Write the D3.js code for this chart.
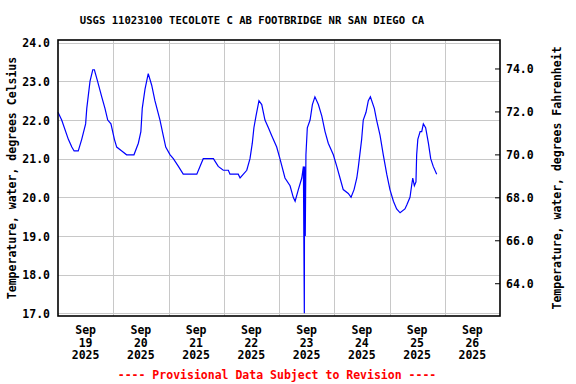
<!DOCTYPE html>
<html>
<head>
<meta charset="utf-8">
<script src="https://cdn.jsdelivr.net/npm/d3@7"></script>
<style>
  body { margin: 0; background: #fff; }
  text { font-family: "DejaVu Sans Mono", monospace; font-weight: bold; }
</style>
</head>
<body>
<script>
// readings: hours after 2025-09-19 00:00, and temperature in deg C
var hours = [0, 1.6, 4.5, 6, 7, 8.8, 10.3, 12, 12.5, 13.9, 15.1, 15.8, 17.2, 19, 20.4, 21.6, 23,
  24.5, 25.5, 27.7, 29.8, 33, 34.9, 36, 36.6, 37.8, 39.2, 40.7, 42.1, 44.3, 45.7, 46.8,
  48.7, 50.1, 52.3, 54.4, 60.3, 62.4, 63.1, 67.5, 69.6, 71.8, 74, 74.7, 78.3, 79.1,
  82, 83.4, 84.4, 85.1, 86, 87.3, 88.5, 89.9, 91.4, 92.8, 95, 96.4, 98.6, 100.8, 102.2,
  103, 104.4, 105.9, 106.6, 107, 107.1, 107.4, 107.7, 108.3, 109.5, 110.5, 111.6, 113.1,
  114.6, 116, 117.4, 119.6, 121.1, 122.5, 123.9, 126.1, 127.3, 128.6, 129.8, 130.5,
  131.9, 132.6, 133.8, 134.8, 135.7, 137.4, 138.4, 139.9, 141.3, 142.8, 144.2, 145.7,
  147.1, 148.6, 150.7, 151.5, 152.9, 153.6, 154.1, 154.8, 155.5, 155.8, 156.3, 157.3,
  158, 158.7, 159.7, 160.9, 161.9, 163, 164.5];
var temps = [22.2, 22.0, 21.5, 21.3, 21.2, 21.2, 21.5, 21.9, 22.3, 23.0, 23.3, 23.3, 23.0, 22.6, 22.3, 22.0, 21.9,
  21.5, 21.3, 21.2, 21.1, 21.1, 21.4, 21.7, 22.3, 22.8, 23.2, 22.9, 22.5, 22.0, 21.6, 21.3,
  21.1, 21.0, 20.8, 20.6, 20.6, 20.9, 21.0, 21.0, 20.8, 20.7, 20.7, 20.6, 20.6, 20.5,
  20.7, 21.0, 21.4, 21.8, 22.1, 22.5, 22.4, 22.0, 21.8, 21.6, 21.3, 21.0, 20.5, 20.3, 20.0,
  19.9, 20.2, 20.5, 20.8, 17.0, 20.8, 19.0, 21.1, 21.8, 22.0, 22.4, 22.6, 22.4,
  22.1, 21.7, 21.4, 21.1, 20.8, 20.5, 20.2, 20.1, 20.0, 20.2, 20.5, 20.8,
  21.5, 22.0, 22.2, 22.5, 22.6, 22.3, 22.0, 21.6, 21.1, 20.6, 20.2, 19.9,
  19.7, 19.6, 19.7, 19.8, 20.0, 20.3, 20.5, 20.3, 20.4, 21.1, 21.5, 21.7,
  21.7, 21.9, 21.8, 21.4, 21.0, 20.8, 20.6];

var celsiusTicks = [17, 18, 19, 20, 21, 22, 23, 24];
var fahrenheitTicks = [64, 66, 68, 70, 72, 74];
var tickDays = ["19", "20", "21", "22", "23", "24", "25", "26"];
var tickMonth = "Sep", tickYear = "2025";

var title = "USGS 11023100 TECOLOTE C AB FOOTBRIDGE NR SAN DIEGO CA";
var leftTitle = "Temperature, water, degrees Celsius";
var rightTitle = "Temperature, water, degrees Fahrenheit";
var footnote = "---- Provisional Data Subject to Revision ----";

var width = 576, height = 384;
var margin = {top: 40, right: 76, bottom: 68, left: 58};
var plotW = width - margin.left - margin.right,
    plotH = height - margin.top - margin.bottom;

var start = new Date(2025, 8, 19, 0, 0);
var end = new Date(2025, 8, 27, 0, 0);
var hourMs = 3600 * 1000;

var svg = d3.select("body").append("svg")
    .attr("width", width)
    .attr("height", height);

var x = d3.scaleTime().domain([start, end]).range([0, plotW]);
var y = d3.scaleLinear().domain([16.93, 24.07]).range([plotH, 0]);
var yF = d3.scaleLinear()
    .domain(y.domain().map(function(c) { return c * 9 / 5 + 32; }))
    .range([plotH, 0]);

var g = svg.append("g")
    .attr("transform", "translate(" + margin.left + "," + margin.top + ")");

// grid
g.append("g").selectAll("line.h")
    .data(celsiusTicks)
  .enter().append("line")
    .attr("x1", 0).attr("x2", plotW)
    .attr("y1", function(d) { return Math.round(y(d)) + 0.5; })
    .attr("y2", function(d) { return Math.round(y(d)) + 0.5; })
    .attr("stroke", "#c8c8c8")
    .attr("stroke-width", 1);

var dayLines = d3.range(1, tickDays.length).map(function(i) { return new Date(start.getTime() + i * 24 * hourMs); });
g.append("g").selectAll("line.v")
    .data(dayLines)
  .enter().append("line")
    .attr("x1", function(d) { return Math.round(x(d)) + 0.5; })
    .attr("x2", function(d) { return Math.round(x(d)) + 0.5; })
    .attr("y1", 0).attr("y2", plotH)
    .attr("stroke", "#c8c8c8")
    .attr("stroke-width", 1);

// data line
var pts = hours.map(function(h, i) {
    return {t: new Date(start.getTime() + h * hourMs), v: temps[i]};
});
var line = d3.line()
    .x(function(d) { return x(d.t); })
    .y(function(d) { return y(d.v); });

g.append("path")
    .datum(pts)
    .attr("d", line)
    .attr("fill", "none")
    .attr("stroke", "#0000ff")
    .attr("stroke-width", 1.2);

// frame
g.append("rect")
    .attr("x", 0).attr("y", 0)
    .attr("width", plotW).attr("height", plotH)
    .attr("fill", "none")
    .attr("stroke", "#000")
    .attr("stroke-width", 1.6);

// left axis labels
var yAxis = d3.axisLeft(y)
    .tickValues(celsiusTicks)
    .tickSize(0)
    .tickPadding(8)
    .tickFormat(d3.format(".1f"));
var ya = g.append("g").call(yAxis);
ya.select(".domain").remove();
ya.selectAll("text")
    .attr("font-size", "11.5px")
    .attr("fill", "#000")
    .attr("dy", "0.36em");

// right axis
var yAxisR = d3.axisRight(yF)
    .tickValues(fahrenheitTicks)
    .tickSizeInner(-5)
    .tickSizeOuter(0)
    .tickPadding(6)
    .tickFormat(d3.format(".1f"));
var yr = g.append("g")
    .attr("transform", "translate(" + plotW + ",0)")
    .call(yAxisR);
yr.select(".domain").remove();
yr.selectAll("line").attr("stroke", "#000");
yr.selectAll("text")
    .attr("font-size", "11.5px")
    .attr("fill", "#000")
    .attr("dy", "0.36em");

// bottom date labels
var noons = tickDays.map(function(d, i) { return new Date(start.getTime() + (i * 24 + 12) * hourMs); });
var xl = g.append("g")
    .attr("transform", "translate(0," + plotH + ")");
xl.selectAll("text")
    .data(noons)
  .enter().append("text")
    .attr("text-anchor", "middle")
    .attr("font-size", "11.5px")
    .attr("fill", "#000")
    .each(function(d, i) {
        var t = d3.select(this);
        [tickMonth, tickDays[i], tickYear].forEach(function(s, k) {
            t.append("tspan")
                .attr("x", x(d))
                .attr("y", 18 + k * 12.7)
                .text(s);
        });
    });

// titles
svg.append("text")
    .attr("x", 252).attr("y", 24)
    .attr("text-anchor", "middle")
    .attr("font-size", "10.6px")
    .text(title);

svg.append("text")
    .attr("transform", "translate(16," + (margin.top + plotH / 2) + ") rotate(-90)")
    .attr("text-anchor", "middle")
    .attr("font-size", "11.5px")
    .text(leftTitle);

svg.append("text")
    .attr("transform", "translate(561," + (margin.top + plotH / 2) + ") rotate(-90)")
    .attr("text-anchor", "middle")
    .attr("font-size", "11.5px")
    .text(rightTitle);

svg.append("text")
    .attr("x", 277).attr("y", 379)
    .attr("text-anchor", "middle")
    .attr("font-size", "11.5px")
    .attr("fill", "#ff0000")
    .text(footnote);
</script>
</body>
</html>
